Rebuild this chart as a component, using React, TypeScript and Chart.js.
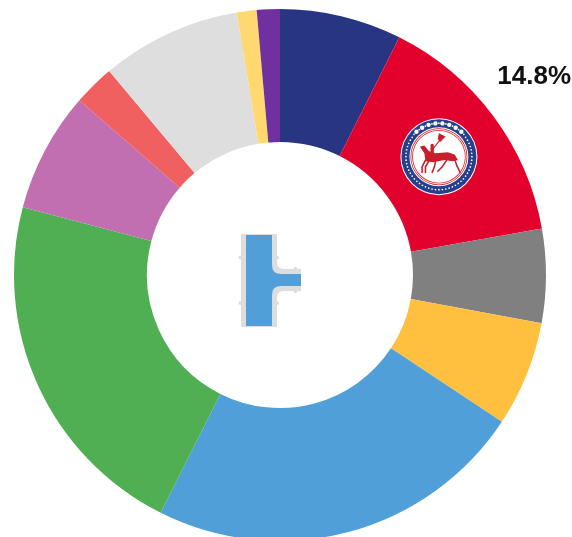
import React, { useEffect, useRef } from "react";
import { Chart, registerables } from "chart.js";

Chart.register(...registerables);

const categories = ["A", "B", "C", "D", "E", "F", "G", "H", "I", "J", "K"];
const shares = [7.4, 14.8, 5.7, 6.4, 23.1, 21.7, 7.3, 2.5, 8.5, 1.2, 1.4];
const colors = ["#283583", "#E2002D", "#808080", "#FFC03F", "#519FD9", "#50AF52", "#C16FB0", "#F06060", "#DEDEDE", "#FFD970", "#7030A0"];
const labelText = "14.8%";

function drawEmblem(ctx: CanvasRenderingContext2D, cx: number, cy: number) {
  const circle = (r: number, c: string) => {
    ctx.beginPath();
    ctx.arc(cx, cy, r, 0, Math.PI * 2);
    ctx.fillStyle = c;
    ctx.fill();
  };
  circle(38.5, "#ffffff");
  circle(37.5, "#25418C");
  circle(29.5, "#ffffff");
  circle(28.5, "#D8262C");
  circle(27.7, "#ffffff");
  circle(26.8, "#D8262C");
  circle(26, "#ffffff");
  // ring ornaments
  ctx.fillStyle = "#ffffff";
  for (let i = 0; i < 60; i++) {
    const a = (i / 60) * Math.PI * 2;
    const top = a > Math.PI * 1.2 && a < Math.PI * 1.8;
    const r = top ? 33.5 : 33;
    ctx.beginPath();
    ctx.arc(cx + r * Math.cos(a), cy + r * Math.sin(a), top && i % 2 === 0 ? 2.2 : 0.85, 0, Math.PI * 2);
    ctx.fill();
  }
  // rider on horse
  ctx.save();
  ctx.translate(cx, cy);
  ctx.scale(1.12, 1.12);
  ctx.strokeStyle = "#C8202A";
  ctx.fillStyle = "#C8202A";
  ctx.lineCap = "round";
  ctx.beginPath();
  ctx.moveTo(-17, -9);
  ctx.lineTo(-13, -10);
  ctx.lineTo(-9, -5);
  ctx.lineTo(-3, -3);
  ctx.lineTo(8, -4);
  ctx.lineTo(14, -2);
  ctx.lineTo(17, 3);
  ctx.lineTo(12, 4);
  ctx.lineTo(5, 3);
  ctx.lineTo(-5, 5);
  ctx.lineTo(-12, 4);
  ctx.lineTo(-13, -3);
  ctx.closePath();
  ctx.fill();
  ctx.lineWidth = 1.4;
  const legs = [
    [-12, 3, -15, 9, -15, 14],
    [-9, 4, -12, 9, -12, 14],
    [7, 3, 3, 9, -1, 13],
    [14, 2, 16, 8, 19, 14],
    [-3, 4, -4, 9, -6, 14],
  ];
  legs.forEach(([a, b, c, d, e, f]) => {
    ctx.beginPath();
    ctx.moveTo(a, b);
    ctx.lineTo(c, d);
    ctx.lineTo(e, f);
    ctx.stroke();
  });
  ctx.lineWidth = 3;
  ctx.beginPath();
  ctx.moveTo(-6, -4);
  ctx.lineTo(-6, -10);
  ctx.stroke();
  ctx.lineWidth = 1;
  ctx.beginPath();
  ctx.moveTo(-6, -6);
  ctx.lineTo(1, -15);
  ctx.stroke();
  ctx.beginPath();
  ctx.moveTo(0, -21);
  ctx.lineTo(6, -18);
  ctx.lineTo(4, -16);
  ctx.lineTo(1, -13);
  ctx.lineTo(-1, -16);
  ctx.closePath();
  ctx.fill();
  ctx.restore();
}

function logoPath(ctx: CanvasRenderingContext2D, g: number) {
  ctx.beginPath();
  ctx.moveTo(246 - g, 235 - g * 0.2);
  ctx.lineTo(272 + g, 235 - g * 0.2);
  ctx.lineTo(272 + g, 265 - g * 0.6);
  ctx.quadraticCurveTo(272 + g, 274 - g, 281 + g * 0.6, 274 - g);
  ctx.lineTo(301, 274 - g);
  ctx.lineTo(301, 286 + g);
  ctx.lineTo(281 + g * 0.6, 286 + g);
  ctx.quadraticCurveTo(272 + g, 286 + g, 272 + g, 295 + g * 0.6);
  ctx.lineTo(272 + g, 326 + g * 0.2);
  ctx.lineTo(246 - g, 326 + g * 0.2);
  ctx.closePath();
}

function drawLogo(ctx: CanvasRenderingContext2D) {
  ctx.fillStyle = "#DDDDDD";
  logoPath(ctx, 5);
  ctx.fill();
  [[240.5, 257.5], [240.5, 303], [277, 257.5], [277, 303], [295.5, 269], [295.5, 291]].forEach(([x, y]) => {
    ctx.beginPath();
    ctx.arc(x, y, 2, 0, Math.PI * 2);
    ctx.fill();
  });
  ctx.fillStyle = "#519FD9";
  logoPath(ctx, 0);
  ctx.fill();
}

const overlay = {
  id: "overlay",
  afterDatasetsDraw(chart: Chart) {
    const ctx = chart.ctx;
    ctx.save();
    const arc: any = chart.getDatasetMeta(0).data[1];
    const mid = (arc.startAngle + arc.endAngle) / 2;
    const rMid = (arc.innerRadius + arc.outerRadius) / 2;
    drawEmblem(ctx, arc.x + rMid * Math.cos(mid) - 1, arc.y + rMid * Math.sin(mid) + 1);
    drawLogo(ctx);
    ctx.fillStyle = "#111111";
    ctx.font = "bold 26px 'Liberation Sans', Arial, sans-serif";
    ctx.textAlign = "right";
    ctx.textBaseline = "alphabetic";
    ctx.fillText(labelText, 571, 84);
    ctx.restore();
  },
};

export default function App() {
  const ref = useRef<HTMLCanvasElement>(null);
  useEffect(() => {
    document.body.style.margin = "0";
    const chart = new Chart(ref.current!, {
      type: "doughnut",
      data: {
        labels: categories,
        datasets: [{ data: shares, backgroundColor: colors, borderWidth: 0 }],
      },
      options: {
        animation: false,
        responsive: false,
        cutout: "50%",
        layout: { padding: { left: 14, right: 26, top: 9, bottom: 19 } },
        plugins: { legend: { display: false }, tooltip: { enabled: false } },
      },
      plugins: [overlay],
    });
    return () => chart.destroy();
  }, []);
  return (
    <div style={{ width: 572, height: 537, overflow: "hidden", background: "#fff" }}>
      <canvas ref={ref} width={572} height={560} style={{ display: "block" }} />
    </div>
  );
}
